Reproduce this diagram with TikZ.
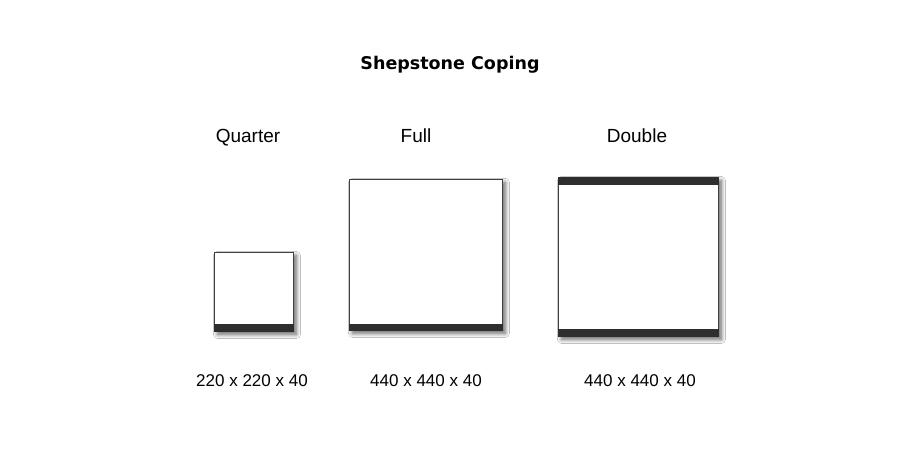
\documentclass[tikz,border=0pt]{standalone}
\usepackage{fontspec}
\setmainfont{Liberation Sans}
\newfontfamily\titlefont{DejaVu Sans}
\usetikzlibrary{shadows.blur}
\begin{document}
\begin{tikzpicture}[x=1pt,y=-1pt,
  tile/.style={draw=black!75, line width=0.9pt, fill=white, inner sep=0pt, anchor=north west,
    blur shadow={shadow xshift=3pt, shadow yshift=-3pt, shadow blur radius=4pt, shadow blur steps=10, shadow opacity=60}},
  band/.style={fill=black!82, draw=none},
  lbl/.style={font=\fontsize{19}{22}\selectfont, inner sep=0pt, anchor=base},
  dim/.style={font=\fontsize{17}{20}\selectfont, inner sep=0pt, anchor=base},
  ttl/.style={font=\titlefont\bfseries\fontsize{17.5}{20}\selectfont, inner sep=0pt, anchor=base}]
\useasboundingbox[fill=white] (0,0) rectangle (900,451);
\node[ttl] (title) at (450,69) {Shepstone Coping};
\node[lbl] (lq) at (248,142) {Quarter};
\node[lbl] (lf) at (416,142) {Full};
\node[lbl] (ld) at (637,142) {Double};
\node[tile, minimum width=79pt, minimum height=79pt] (q) at (214,252) {};
\fill[band] (q.south west) rectangle ([yshift=8pt]q.south east);
\node[tile, minimum width=153pt, minimum height=151pt] (f) at (349,179) {};
\fill[band] (f.south west) rectangle ([yshift=7pt]f.south east);
\node[tile, minimum width=160pt, minimum height=159pt] (d) at (558,177) {};
\fill[band] (d.north west) rectangle ([yshift=-8pt]d.north east);
\fill[band] (d.south west) rectangle ([yshift=8pt]d.south east);
\node[dim] (dq) at (252,386) {220 x 220 x 40};
\node[dim] (df) at (426,386) {440 x 440 x 40};
\node[dim] (dd) at (640,386) {440 x 440 x 40};
\end{tikzpicture}
\end{document}
